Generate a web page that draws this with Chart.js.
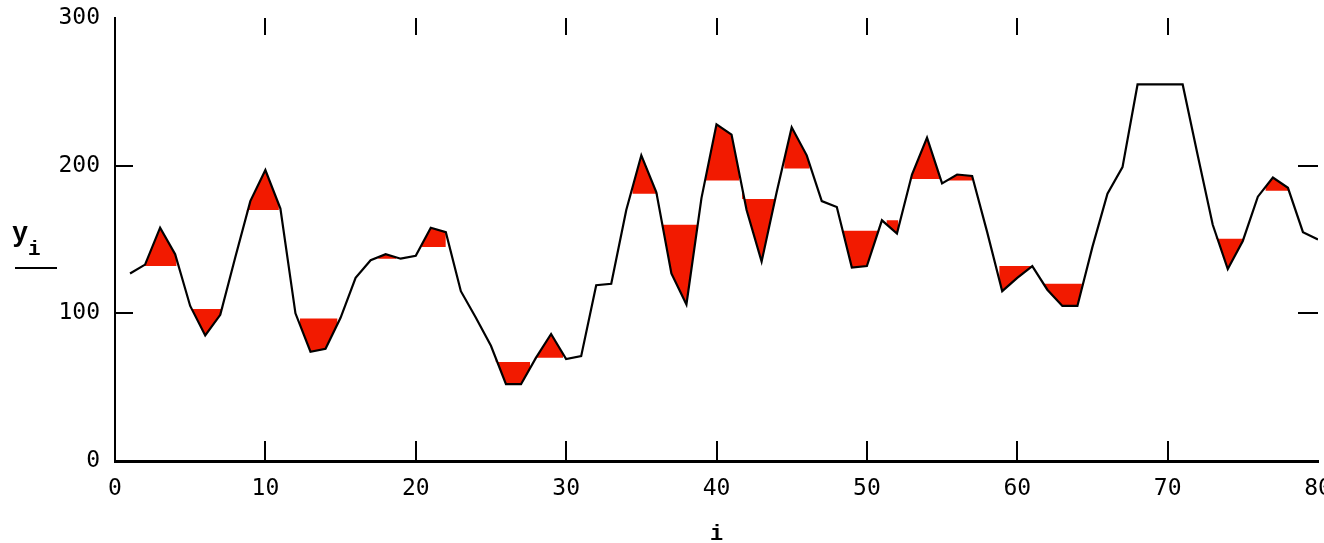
<!DOCTYPE html>
<html>
<head>
<meta charset="utf-8">
<script src="https://cdn.jsdelivr.net/npm/chart.js@4.4.1/dist/chart.umd.min.js"></script>
<style>
  html, body { margin: 0; padding: 0; background: #ffffff; }
  #chart { display: block; }
</style>
</head>
<body>
<canvas id="chart" width="1324" height="543"></canvas>
<script>
// index i and the smoothed values y_i
const indexValues = [
   1,  2,  3,  4,  5,  6,  7,  8,  9, 10,
  11, 12, 13, 14, 15, 16, 17, 18, 19, 20,
  21, 22, 23, 24, 25, 26, 27, 28, 29, 30,
  31, 32, 33, 34, 35, 36, 37, 38, 39, 40,
  41, 42, 43, 44, 45, 46, 47, 48, 49, 50,
  51, 52, 53, 54, 55, 56, 57, 58, 59, 60,
  61, 62, 63, 64, 65, 66, 67, 68, 69, 70,
  71, 72, 73, 74, 75, 76, 77, 78, 79, 80
];
const yValues = [
  127, 133, 158, 140, 105,  85,  99, 138, 176, 197,
  171, 100,  74,  76,  97, 124, 136, 140, 137, 139,
  158, 155, 115,  97,  78,  52,  52,  70,  86,  69,
   71, 119, 120, 170, 207, 182, 127, 106, 178, 228,
  221, 170, 135, 182, 226, 207, 176, 172, 131, 132,
  163, 154, 194, 219, 188, 194, 193, 155, 115, 124,
  132, 116, 105, 105, 145, 181, 199, 255, 255, 255,
  255, 207, 160, 130, 149, 179, 192, 185, 155, 150
];

// red bands: from fillStart to fillEnd at level fillLevel, filled to the curve
const fillStart = [1.8, 5.1, 8.75, 12.3, 17.5, 20.4, 25.3, 27.9, 34.4, 36.4, 39.3,
                   41.7, 44.5, 48.4, 51.3, 53.0, 55.4, 58.8, 61.8, 73.2, 76.5];
const fillEnd   = [4.1, 7.2, 10.9, 14.8, 18.7, 22.0, 27.6, 29.8, 36.1, 38.7, 41.5,
                   43.9, 46.2, 50.8, 52.1, 54.9, 57.0, 61.0, 64.3, 75.1, 78.1];
const fillLevel = [132, 103, 170, 96.5, 137, 145, 67, 70, 181, 160, 190,
                   177.5, 198, 156, 163, 191, 190, 132, 120, 150.5, 183];

// axis ticks
const xTicks = [0, 10, 20, 30, 40, 50, 60, 70, 80];
const yTicks = [0, 100, 200, 300];
const xInnerTicks = [10, 20, 30, 40, 50, 60, 70];
const yInnerTicks = [100, 200];

const curveData = indexValues.map((x, k) => ({ x: x, y: yValues[k] }));

const levelData = [];
fillStart.forEach((s, k) => {
  levelData.push({ x: s, y: fillLevel[k] });
  levelData.push({ x: fillEnd[k], y: fillLevel[k] });
  levelData.push({ x: fillEnd[k], y: null });
});

// Mathcad style inner tick marks and the y_i label
const decorations = {
  id: 'decorations',
  afterDraw(chart) {
    const ctx = chart.ctx;
    const xs = chart.scales.x;
    const ys = chart.scales.y;
    const area = chart.chartArea;
    ctx.save();
    ctx.strokeStyle = '#000000';
    ctx.lineWidth = 2;
    ctx.beginPath();
    xInnerTicks.forEach(v => {
      const px = Math.round(xs.getPixelForValue(v));
      ctx.moveTo(px, area.top);
      ctx.lineTo(px, area.top + 17);
      ctx.moveTo(px, area.bottom);
      ctx.lineTo(px, area.bottom - 20);
    });
    yInnerTicks.forEach(v => {
      const py = Math.round(ys.getPixelForValue(v));
      ctx.moveTo(area.left, py);
      ctx.lineTo(area.left + 18, py);
      ctx.moveTo(area.right, py);
      ctx.lineTo(area.right - 20, py);
    });
    ctx.stroke();

    // y axis title: y with subscript i, underlined
    ctx.fillStyle = '#000000';
    ctx.textBaseline = 'alphabetic';
    ctx.textAlign = 'left';
    ctx.font = 'bold 27px "Liberation Mono"';
    ctx.fillText('y', 12, 241);
    ctx.font = 'bold 21px "Liberation Mono"';
    ctx.fillText('i', 28, 255);
    ctx.fillRect(15, 267, 42, 2);
    ctx.restore();
  }
};

new Chart(document.getElementById('chart'), {
  type: 'line',
  data: {
    datasets: [
      {
        label: 'y',
        data: curveData,
        borderColor: '#000000',
        borderWidth: 2.2,
        pointRadius: 0,
        tension: 0,
        fill: false
      },
      {
        label: 'band',
        data: levelData,
        borderColor: 'rgba(0,0,0,0)',
        borderWidth: 0,
        backgroundColor: '#f21a00',
        pointRadius: 0,
        tension: 0,
        spanGaps: false,
        fill: { target: 0 }
      }
    ]
  },
  options: {
    responsive: false,
    animation: false,
    devicePixelRatio: 1,
    layout: { padding: { top: 18, right: 6, bottom: 0, left: 0 } },
    plugins: {
      legend: { display: false },
      tooltip: { enabled: false }
    },
    scales: {
      x: {
        type: 'linear',
        min: 0,
        max: 80,
        afterBuildTicks: s => { s.ticks = xTicks.map(v => ({ value: v })); },
        afterFit: s => { s.height = 82; s.paddingLeft = 0; s.paddingRight = 0; },
        grid: { display: false, drawTicks: false },
        border: { display: true, color: '#000000', width: 3 },
        ticks: {
          color: '#000000',
          padding: 14,
          maxRotation: 0,
          font: { family: 'DejaVu Sans Mono', size: 23 }
        },
        title: {
          display: true,
          text: 'i',
          color: '#000000',
          padding: { top: 0, bottom: -5 },
          font: { family: 'Liberation Mono', size: 22, weight: 'bold' }
        }
      },
      y: {
        type: 'linear',
        min: 0,
        max: 300,
        afterBuildTicks: s => { s.ticks = yTicks.map(v => ({ value: v })); },
        afterFit: s => { s.width = 115; s.paddingTop = 0; s.paddingBottom = 0; },
        grid: { display: false, drawTicks: false },
        border: { display: true, color: '#000000', width: 2 },
        ticks: {
          color: '#000000',
          padding: 15,
          font: { family: 'DejaVu Sans Mono', size: 23 }
        }
      }
    }
  },
  plugins: [decorations]
});
</script>
</body>
</html>
